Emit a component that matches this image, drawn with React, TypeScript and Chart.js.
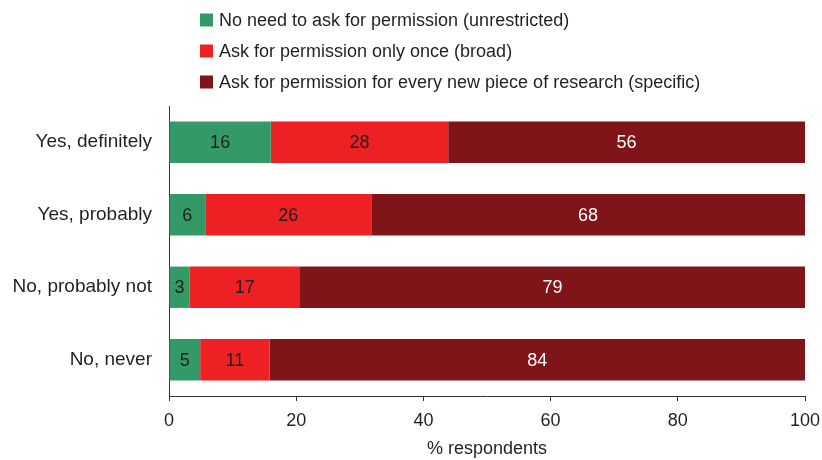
import React, { useEffect, useRef } from "react";
import { Chart, registerables } from "chart.js";

Chart.register(...registerables);

const categories = ["Yes, definitely", "Yes, probably", "No, probably not", "No, never"];
const unrestricted = [16.0, 5.7, 3.2, 4.9];
const broad = [27.9, 26.1, 17.4, 10.9];
const specific = [56.1, 68.2, 79.4, 84.2];
const seriesNames = [
  "No need to ask for permission (unrestricted)",
  "Ask for permission only once (broad)",
  "Ask for permission for every new piece of research (specific)",
];
const xTicks = [0, 20, 40, 60, 80, 100];
const xTitle = "% respondents";

const FONT = "'Liberation Sans', Arial, sans-serif";
const TEXT = "#231f20";
const colors = ["#339966", "#ed2024", "#7f1518"];
const labelColors = [TEXT, TEXT, "#ffffff"];

const legendPlugin = {
  id: "vlegend",
  afterDraw(chart: any) {
    const ctx = chart.ctx;
    ctx.save();
    ctx.font = `18px ${FONT}`;
    ctx.textBaseline = "middle";
    ctx.textAlign = "left";
    chart.data.datasets.forEach((ds: any, i: number) => {
      const cy = 20 + i * 31;
      ctx.fillStyle = ds.backgroundColor;
      ctx.fillRect(200, cy - 6.5, 13, 13);
      ctx.fillStyle = TEXT;
      ctx.fillText(ds.label, 219, cy + 1);
    });
    ctx.restore();
  },
};

const valueLabelPlugin = {
  id: "valueLabels",
  afterDatasetsDraw(chart: any) {
    const ctx = chart.ctx;
    ctx.save();
    ctx.font = `18px ${FONT}`;
    ctx.textAlign = "center";
    ctx.textBaseline = "middle";
    chart.data.datasets.forEach((ds: any, i: number) => {
      const meta = chart.getDatasetMeta(i);
      meta.data.forEach((bar: any, j: number) => {
        const v = ds.data[j];
        ctx.fillStyle = labelColors[i];
        ctx.fillText(String(Math.round(v)), (bar.x + bar.base) / 2, bar.y + 1);
      });
    });
    ctx.restore();
  },
};

export default function App() {
  const ref = useRef<HTMLCanvasElement>(null);
  useEffect(() => {
    document.body.style.margin = "0";
    const chart = new Chart(ref.current!, {
      type: "bar",
      data: {
        labels: categories,
        datasets: [unrestricted, broad, specific].map((d, i) => ({
          label: seriesNames[i],
          data: d,
          backgroundColor: colors[i],
          borderWidth: 0,
          categoryPercentage: 1,
          barPercentage: 0.57,
        })),
      },
      options: {
        indexAxis: "y",
        responsive: false,
        animation: false,
        layout: { padding: { top: 106, right: 17, left: 0, bottom: 0 } },
        plugins: { legend: { display: false }, tooltip: { enabled: false } },
        scales: {
          x: {
            stacked: true,
            min: 0,
            max: 100,
            afterBuildTicks: (s: any) => {
              s.ticks = xTicks.map((v) => ({ value: v }));
            },
            afterFit: (s: any) => {
              s.height = 64;
              s.paddingRight = 0;
              s.paddingLeft = 0;
            },
            grid: { display: true, drawOnChartArea: false, drawTicks: true, tickLength: 5, color: "#333333" },
            border: { display: true, color: "#333333", width: 1 },
            ticks: { color: TEXT, font: { family: FONT, size: 18 }, padding: 9, maxRotation: 0 },
            title: {
              display: true,
              text: xTitle,
              color: TEXT,
              font: { family: FONT, size: 18 },
              padding: { top: 0, bottom: 0 },
            },
          },
          y: {
            stacked: true,
            afterFit: (s: any) => {
              s.width = 169;
            },
            grid: { display: false, drawTicks: false },
            border: { display: true, color: "#333333", width: 1 },
            ticks: { color: TEXT, font: { family: FONT, size: 19 }, padding: 17 },
          },
        },
      },
      plugins: [legendPlugin, valueLabelPlugin],
    });
    return () => chart.destroy();
  }, []);
  return <canvas ref={ref} width={822} height={460} />;
}
